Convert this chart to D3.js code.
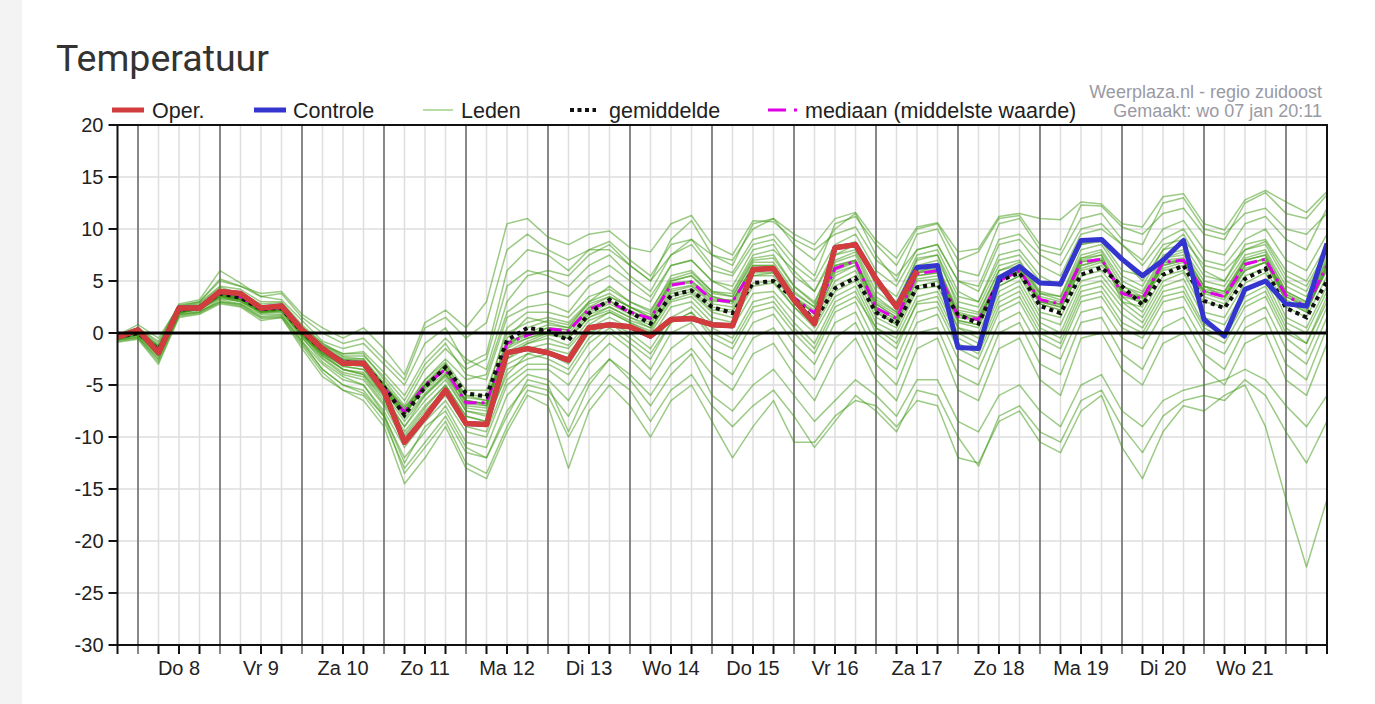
<!DOCTYPE html>
<html>
<head>
<meta charset="utf-8">
<script src="https://cdnjs.cloudflare.com/ajax/libs/d3/7.8.5/d3.min.js"></script>
<style>
html, body { margin: 0; padding: 0; background: #fff; }
body { width: 1375px; height: 704px; overflow: hidden; position: relative; }
#strip { position: absolute; left: 0; top: 0; width: 22px; height: 704px; background: #f3f3f3; }
svg { position: absolute; left: 0; top: 0; }
</style>
</head>
<body>
<div id="strip"></div>
<script>
'use strict';

// 6-hourly steps, step 0 = wo 7 jan 18u, step 1 = do 8 jan 00u
var dayLabels = ['Do 8', 'Vr 9', 'Za 10', 'Zo 11', 'Ma 12', 'Di 13', 'Wo 14', 'Do 15', 'Vr 16', 'Za 17', 'Zo 18', 'Ma 19', 'Di 20', 'Wo 21'];
var yTicks = [-30, -25, -20, -15, -10, -5, 0, 5, 10, 15, 20];

var oper = [-0.4, 0.3, -1.9, 2.4, 2.4, 4.0, 3.8, 2.4, 2.6, 0.3,
  -1.5, -2.9, -2.9, -5.6, -10.5, -8.1, -5.5, -8.7, -8.8, -1.9,
  -1.5, -1.9, -2.6, 0.5, 0.8, 0.6, -0.3, 1.3, 1.4, 0.8,
  0.7, 6.1, 6.2, 3.2, 0.9, 8.2, 8.5, 5.2, 2.5, 6.0];

// controle lies under oper during the first days
var controle = [-0.4, 0.3, -1.9, 2.4, 2.4, 4.0, 3.8, 2.4, 2.6, 0.3,
  -1.5, -2.9, -2.9, -5.6, -10.5, -8.1, -5.5, -8.7, -8.8, -1.9,
  -1.5, -1.9, -2.6, 0.5, 0.8, 0.6, -0.3, 1.3, 1.4, 0.8,
  0.7, 6.1, 6.2, 3.2, 0.9, 8.2, 8.5, 5.2, 2.5, 6.3,
  6.5, -1.4, -1.5, 5.3, 6.4, 4.8, 4.7, 8.9, 9.0, 7.1,
  5.5, 7.0, 8.9, 1.3, -0.3, 4.2, 5.0, 2.8, 2.6, 8.6];

var gemiddelde = [-0.4, 0, -1.6, 2.2, 2.5, 3.8, 3.4, 2.3, 2.4, 0.1,
  -1.6, -2.8, -2.9, -5.2, -7.9, -5.2, -3.3, -5.8, -6.1, -0.7,
  0.5, 0.2, -0.7, 1.9, 3.2, 2.0, 0.9, 3.6, 4.1, 2.5,
  1.9, 4.8, 5.0, 3.3, 1.2, 4.3, 5.3, 2.0, 0.9, 4.4,
  4.7, 1.8, 0.9, 5.0, 5.8, 2.6, 1.9, 5.6, 6.3, 4.5,
  2.7, 5.6, 6.5, 3.1, 2.4, 5.2, 6.2, 2.4, 1.5, 5.0];

var mediaan = [-0.4, 0, -1.7, 2.2, 2.5, 3.9, 3.5, 2.3, 2.4, 0.1,
  -1.6, -2.8, -2.9, -5.3, -7.6, -5.0, -3.5, -6.7, -6.7, -1.0,
  -0.2, 0.4, 0.2, 2.3, 3.0, 2.0, 1.4, 4.6, 4.9, 3.2,
  3.0, 6.2, 6.2, 3.4, 1.9, 6.2, 6.9, 2.4, 1.4, 5.7,
  6.0, 1.6, 1.3, 5.0, 6.0, 3.2, 2.8, 6.8, 7.1, 3.8,
  3.3, 6.8, 7.0, 4.0, 3.5, 6.6, 7.1, 3.6, 2.5, 6.5];

var leden = [
  [-0.2, 0.8, -0.5, 2.6, 3.0, 5.2, 4.5, 3.8, 4.0, 1.8, 0.5, -0.5, 0.5, -1.5, -4.0, 1.0, 2.2, 0.5, 3.0, 10.5,
   11.0, 9.2, 8.5, 9.5, 9.8, 8.2, 7.8, 10.5, 11.3, 8.5, 7.5, 10.8, 10.7, 9.0, 8.0, 9.5, 10.2, 7.0, 5.5, 8.0,
   8.5, 5.0, 4.5, 9.0, 9.5, 7.5, 6.5, 10.0, 10.5, 8.5, 7.0, 10.0, 10.8, 8.0, 7.5, 10.5, 11.2, 9.0, 8.0, 12.0],
  [-0.5, 0.5, -1.0, 2.8, 3.2, 6.0, 4.8, 3.5, 3.2, 1.2, -0.8, -1.5, -1.0, -3.0, -5.0, -1.0, 0.5, -3.0, -2.0, 6.0,
   8.0, 7.5, 6.0, 8.0, 8.8, 7.0, 5.5, 8.5, 9.0, 6.5, 5.8, 9.0, 9.5, 7.2, 5.5, 10.5, 11.2, 8.5, 6.5, 10.0,
   10.5, 7.0, 7.8, 11.0, 11.3, 8.5, 8.0, 12.3, 12.2, 10.2, 9.5, 11.5, 12.0, 9.5, 9.0, 12.5, 13.5, 11.5, 11.0, 13.3],
  [-0.3, 0.2, -1.2, 2.5, 2.9, 4.5, 4.2, 3.0, 3.0, 0.8, -1.0, -2.0, -1.8, -3.8, -6.0, -2.5, -0.5, -2.5, -3.5, 3.0,
   5.5, 6.0, 5.5, 7.5, 8.5, 6.5, 5.0, 9.0, 10.8, 7.5, 6.5, 10.5, 11.0, 8.5, 7.0, 10.0, 11.5, 7.5, 5.0, 9.5,
   10.0, 6.0, 5.5, 10.5, 11.0, 8.0, 7.5, 11.0, 11.5, 9.0, 8.5, 12.5, 13.0, 10.0, 9.5, 11.5, 12.0, 10.0, 9.5, 11.5],
  [-0.4, 0.0, -1.5, 2.3, 2.6, 4.2, 3.6, 2.5, 2.7, 0.5, -1.2, -2.0, -2.0, -4.5, -7.0, -3.5, -1.5, -3.5, -2.5, 4.5,
   6.0, 5.5, 4.5, 6.5, 7.5, 5.5, 4.0, 7.5, 8.5, 6.0, 5.5, 8.5, 9.0, 6.5, 5.0, 8.5, 9.5, 6.0, 4.5, 8.0,
   8.5, 5.0, 4.0, 8.5, 9.0, 6.5, 5.5, 9.5, 10.0, 8.5, 6.5, 9.0, 10.0, 7.0, 6.5, 9.0, 10.0, 7.0, 6.0, 9.5],
  [-0.6, -0.2, -2.0, 2.0, 2.3, 3.5, 3.2, 2.0, 2.2, -0.2, -2.0, -3.0, -3.0, -5.0, -7.5, -4.5, -2.5, -4.5, -4.0, 2.0,
   3.5, 4.0, 3.5, 5.5, 6.5, 5.0, 3.5, 6.5, 7.0, 5.0, 4.0, 7.5, 8.0, 6.0, 4.0, 7.5, 8.5, 5.0, 3.5, 7.5,
   8.0, 4.0, 3.0, 7.5, 8.0, 5.5, 4.5, 8.5, 9.0, 7.0, 5.0, 8.0, 9.5, 6.0, 5.0, 8.5, 9.0, 6.0, 5.0, 8.5],
  [-0.3, 0.1, -1.4, 2.2, 2.5, 3.9, 3.5, 2.4, 2.5, 0.2, -1.5, -2.6, -2.8, -5.0, -7.2, -5.0, -3.0, -6.0, -6.5, -0.5,
   1.5, 1.0, 0.5, 3.0, 4.5, 3.0, 2.0, 5.5, 6.0, 4.0, 3.5, 7.0, 7.2, 4.5, 3.0, 7.0, 7.8, 3.5, 2.0, 6.5,
   7.0, 3.0, 2.5, 6.5, 7.0, 4.0, 3.5, 7.5, 8.0, 5.0, 4.0, 7.5, 8.0, 5.0, 4.5, 7.5, 8.0, 4.5, 3.5, 7.5],
  [-0.5, 0.0, -1.8, 2.1, 2.4, 3.8, 3.3, 2.2, 2.3, 0.0, -1.8, -3.0, -3.2, -5.5, -7.8, -5.0, -3.2, -6.5, -6.8, -1.0,
   0.0, 0.8, 0.5, 2.5, 3.5, 2.5, 1.5, 4.8, 5.0, 3.5, 3.0, 6.5, 6.5, 3.8, 2.5, 6.5, 7.0, 3.0, 1.8, 6.0,
   6.2, 2.0, 1.5, 5.5, 6.5, 3.5, 3.0, 7.0, 7.5, 4.0, 3.5, 7.0, 7.2, 4.5, 4.0, 7.0, 7.5, 4.0, 3.0, 7.0],
  [-0.4, 0.2, -1.5, 2.3, 2.6, 4.0, 3.4, 2.3, 2.4, 0.3, -1.4, -2.5, -2.5, -5.0, -7.5, -4.8, -3.0, -6.2, -6.5, -0.8,
   -0.2, 0.5, 0.3, 2.2, 3.0, 2.2, 1.2, 4.5, 5.0, 3.2, 2.8, 6.0, 6.2, 3.5, 1.8, 6.2, 7.0, 2.5, 1.2, 5.8,
   6.0, 1.5, 1.2, 5.0, 6.0, 3.0, 2.5, 6.8, 7.2, 3.5, 3.0, 6.5, 7.0, 4.0, 3.5, 6.5, 7.2, 3.5, 2.5, 6.5],
  [-0.4, 0.1, -1.6, 2.2, 2.4, 3.7, 3.4, 2.4, 2.5, 0.2, -1.6, -2.8, -3.0, -5.3, -7.8, -5.2, -3.5, -6.8, -7.0, -1.2,
   -0.5, 0.2, 0.0, 2.0, 2.8, 1.8, 1.0, 4.2, 4.6, 3.0, 3.2, 6.3, 6.0, 3.2, 2.0, 6.0, 6.8, 2.8, 1.5, 5.5,
   5.8, 1.8, 1.5, 5.2, 6.2, 3.3, 2.8, 6.5, 7.0, 4.0, 3.3, 6.8, 7.0, 4.2, 3.8, 6.8, 7.0, 3.8, 2.8, 6.8],
  [-0.3, 0.0, -1.7, 2.0, 2.3, 3.6, 3.2, 2.2, 2.3, 0.0, -1.7, -2.9, -3.0, -5.5, -8.0, -5.0, -3.5, -6.5, -6.8, -1.5,
   -0.5, 0.0, -0.3, 1.8, 2.5, 1.5, 0.8, 4.0, 4.5, 2.8, 2.5, 5.8, 5.8, 3.0, 1.5, 5.5, 6.5, 2.2, 1.0, 5.2,
   5.5, 1.2, 0.8, 4.5, 5.5, 2.8, 2.2, 6.2, 6.8, 4.5, 3.5, 6.2, 6.8, 3.8, 3.2, 6.2, 6.8, 3.2, 2.2, 6.2],
  [-0.5, -0.1, -1.9, 2.1, 2.4, 3.7, 3.3, 2.1, 2.2, -0.1, -2.0, -3.2, -3.5, -5.8, -8.5, -6.0, -4.0, -7.0, -7.2, -2.0,
   -1.0, -0.2, -0.5, 1.5, 2.5, 1.5, 0.5, 3.5, 4.0, 2.2, 2.0, 5.5, 5.5, 2.8, 1.2, 5.0, 6.0, 2.0, 0.8, 5.0,
   5.2, 1.0, 0.5, 5.0, 6.0, 3.0, 2.5, 6.0, 6.5, 4.2, 3.0, 6.0, 6.5, 4.0, 3.5, 6.0, 6.8, 3.5, 2.5, 6.0],
  [-0.4, 0.1, -1.5, 2.4, 2.7, 4.0, 3.6, 2.6, 2.6, 0.4, -1.2, -2.3, -2.5, -4.8, -7.2, -4.5, -2.8, -5.5, -5.5, 0.0,
   1.0, 1.5, 1.0, 3.0, 3.8, 2.5, 1.8, 5.0, 5.5, 3.5, 3.0, 6.5, 6.5, 3.5, 2.2, 6.5, 7.0, 2.8, 1.5, 5.8,
   6.5, 1.8, 1.2, 5.0, 5.8, 3.0, 2.8, 7.2, 7.5, 3.0, 2.5, 7.2, 7.5, 4.5, 3.5, 7.0, 7.5, 3.0, 2.0, 6.5],
  [-0.5, 0.0, -1.6, 2.2, 2.5, 3.8, 3.4, 2.3, 2.4, 0.1, -1.6, -2.8, -2.9, -5.3, -7.7, -5.0, -3.5, -6.7, -6.7, -1.0,
   -0.3, 0.5, 0.3, 2.4, 3.1, 2.1, 1.3, 4.7, 4.8, 3.3, 3.1, 6.1, 6.3, 3.3, 2.0, 6.3, 6.8, 2.5, 1.3, 5.8,
   6.1, 1.7, 1.2, 5.1, 5.9, 3.3, 2.7, 6.9, 7.0, 3.9, 3.4, 6.7, 7.1, 4.1, 3.4, 6.5, 7.2, 3.7, 2.6, 6.6],
  [-0.2, 0.3, -1.3, 2.4, 2.6, 3.9, 3.5, 2.5, 2.5, 0.3, -1.3, -2.5, -2.7, -5.0, -7.5, -5.5, -3.8, -7.2, -7.5, -1.8,
   -0.8, 0.0, -0.5, 1.5, 2.2, 1.2, 0.5, 3.2, 3.8, 2.0, 1.5, 4.8, 5.0, 2.5, 0.8, 4.5, 5.5, 1.5, 0.5, 4.5,
   5.0, 0.5, 0.0, 4.5, 5.5, 2.0, 1.5, 5.5, 6.0, 3.5, 2.0, 5.5, 6.0, 3.0, 2.5, 5.5, 6.2, 2.5, 1.5, 5.5],
  [-0.6, -0.2, -2.2, 1.9, 2.3, 3.5, 3.0, 2.0, 2.1, -0.3, -2.2, -3.5, -3.8, -6.0, -9.0, -6.5, -4.5, -7.5, -8.0, -2.5,
   -1.5, -1.0, -1.5, 0.8, 2.0, 1.0, 0.0, 3.0, 3.5, 1.5, 1.0, 4.5, 4.8, 2.5, 0.5, 4.0, 5.0, 1.0, 0.0, 4.2,
   4.5, 0.5, -0.5, 4.0, 5.0, 1.5, 0.8, 5.0, 5.5, 3.0, 1.5, 5.0, 5.8, 2.0, 1.5, 4.8, 5.8, 1.5, 0.5, 4.5],
  [-0.3, 0.2, -1.4, 2.3, 2.5, 3.7, 3.3, 2.4, 2.4, 0.0, -1.8, -3.2, -3.5, -6.0, -9.5, -7.0, -5.0, -8.0, -8.5, -3.0,
   -2.0, -1.5, -2.0, 0.5, 1.5, 0.5, -0.5, 2.5, 3.0, 1.0, 0.5, 3.8, 4.0, 1.8, 0.0, 3.5, 4.5, 0.5, -0.5, 3.5,
   4.0, 0.0, -1.0, 3.5, 4.5, 1.0, 0.0, 4.5, 5.0, 2.5, 1.0, 4.5, 5.2, 1.5, 0.8, 4.2, 5.0, 1.0, 0.0, 4.0],
  [-0.5, 0.0, -1.7, 2.1, 2.4, 3.6, 3.3, 2.2, 2.3, 0.0, -2.0, -3.5, -4.0, -6.5, -10.0, -7.5, -5.5, -8.5, -9.0, -3.5,
   -2.5, -2.0, -3.0, 0.0, 1.0, 0.0, -1.5, 1.5, 2.5, 0.5, -0.5, 3.0, 3.5, 1.0, -1.0, 3.0, 4.0, 0.0, -1.5, 3.0,
   3.5, -0.5, -1.5, 3.0, 4.0, 0.5, -0.5, 4.0, 4.5, 1.8, 0.5, 4.0, 4.5, 0.8, 0.0, 3.5, 4.5, 0.5, -1.0, 3.5],
  [-0.4, 0.1, -1.8, 2.0, 2.2, 3.4, 3.0, 1.9, 2.0, -0.5, -2.5, -4.0, -4.5, -7.0, -10.5, -8.0, -6.0, -9.0, -9.5, -4.5,
   -3.0, -3.0, -4.0, -1.0, 0.5, -1.0, -2.5, 1.0, 2.0, -0.5, -1.5, 2.0, 2.5, 0.0, -2.0, 2.0, 3.0, -1.0, -2.5, 2.0,
   2.5, -1.5, -2.5, 2.0, 3.0, -0.5, -1.5, 3.0, 3.5, 0.5, -0.5, 3.0, 3.5, 0.0, -1.0, 2.5, 3.5, -0.5, -2.0, 2.5],
  [-0.6, -0.3, -2.3, 1.8, 2.0, 3.2, 2.8, 1.8, 1.8, -0.8, -3.0, -4.5, -5.0, -7.5, -11.0, -8.5, -6.5, -9.5, -10.0, -5.0,
   -3.5, -3.5, -5.0, -2.0, 0.0, -1.5, -3.5, 0.0, 1.0, -1.5, -2.5, 1.0, 1.8, -1.0, -3.0, 1.0, 2.0, -2.0, -3.5, 1.0,
   1.8, -2.5, -3.5, 1.0, 2.0, -1.5, -2.5, 2.0, 2.5, -0.5, -1.5, 2.0, 2.5, -1.0, -2.0, 1.5, 2.5, -1.5, -3.0, 1.5],
  [-0.7, -0.4, -2.5, 1.7, 2.0, 3.0, 2.7, 1.5, 1.6, -1.0, -3.5, -5.0, -5.5, -8.0, -12.0, -9.5, -7.0, -10.5, -11.0, -6.0,
   -4.0, -4.5, -6.5, -3.0, -1.0, -2.5, -4.5, -1.5, 0.0, -2.5, -4.0, -0.5, 0.5, -2.5, -4.5, -0.5, 1.0, -3.0, -5.0, 0.0,
   0.5, -4.0, -5.0, 0.0, 1.0, -3.0, -4.0, 1.0, 1.5, -2.0, -3.5, 0.5, 1.5, -2.0, -3.5, 0.5, 1.5, -3.0, -4.5, 0.5],
  [-0.8, -0.5, -2.8, 1.6, 1.9, 2.9, 2.6, 1.4, 1.5, -1.2, -3.8, -5.5, -6.0, -8.5, -13.0, -10.5, -8.0, -11.5, -12.0, -7.5,
   -5.0, -5.5, -8.0, -4.5, -2.5, -4.0, -6.0, -3.0, -1.5, -4.0, -5.5, -2.0, -1.0, -4.0, -6.5, -2.5, -0.5, -4.5, -6.5, -1.5,
   -0.5, -5.5, -6.5, -1.5, -0.5, -4.5, -6.0, -0.5, 0.0, -3.5, -5.0, -1.0, 0.0, -3.5, -5.0, -1.0, 0.0, -4.5, -6.0, -1.0],
  [-0.9, -0.6, -3.0, 1.5, 1.8, 2.8, 2.5, 1.2, 1.5, -1.5, -4.2, -5.5, -6.5, -9.0, -14.5, -12.0, -9.0, -13.0, -14.0, -9.5,
   -6.0, -7.0, -13.0, -7.5, -5.0, -7.0, -10.0, -6.5, -5.0, -8.5, -12.0, -9.0, -6.5, -10.5, -10.5, -8.0, -6.5, -7.0, -9.0, -6.5,
   -7.0, -12.0, -12.5, -8.5, -7.5, -10.5, -11.5, -7.5, -6.0, -11.0, -14.0, -9.5, -7.0, -7.5, -6.0, -5.0, -9.0, -16.0, -22.5, -16.0],
  [-0.7, -0.4, -2.6, 1.8, 2.1, 3.0, 2.8, 1.6, 1.7, -0.8, -3.5, -5.0, -5.8, -8.0, -13.5, -11.0, -8.5, -12.5, -13.5, -9.0,
   -5.5, -6.0, -10.0, -6.5, -4.0, -5.5, -8.5, -5.5, -4.0, -7.0, -9.0, -7.0, -5.5, -8.0, -11.0, -8.5, -6.0, -7.5, -9.5, -5.5,
   -6.0, -10.0, -12.8, -8.0, -7.0, -9.5, -10.5, -6.5, -5.5, -9.0, -11.5, -8.0, -6.5, -6.0, -6.5, -4.5, -6.0, -9.5, -12.5, -8.5],
  [-0.5, -0.1, -2.0, 1.9, 2.3, 3.3, 3.1, 2.0, 2.1, -0.4, -2.8, -4.2, -5.0, -7.8, -12.5, -9.0, -7.5, -11.0, -12.0, -8.0,
   -4.5, -5.0, -9.5, -5.0, -2.5, -4.5, -7.0, -4.0, -2.0, -6.0, -7.5, -5.0, -3.5, -6.0, -8.5, -6.5, -4.5, -6.0, -8.0, -4.5,
   -4.5, -8.5, -9.5, -6.0, -5.0, -7.5, -9.0, -5.0, -4.0, -7.5, -9.0, -6.5, -5.5, -5.0, -4.5, -3.5, -4.5, -7.0, -9.0, -6.0],
  [-0.2, 0.5, -0.8, 2.7, 3.0, 5.0, 4.5, 3.5, 3.8, 1.5, 0.0, -1.0, -0.5, -2.5, -4.5, 0.5, 1.5, -0.5, 1.0, 8.0,
   9.5, 8.0, 7.0, 8.0, 8.0, 6.5, 5.0, 7.5, 9.0, 7.5, 7.0, 10.0, 11.0, 9.5, 8.5, 11.0, 11.6, 8.9, 7.2, 10.2,
   10.6, 7.8, 8.1, 11.2, 11.5, 11.0, 10.9, 12.6, 12.4, 10.5, 10.2, 13.1, 13.4, 10.5, 9.9, 12.8, 13.7, 12.6, 11.6, 13.6],
  [-0.4, 0.0, -1.9, 2.0, 2.3, 3.5, 3.2, 2.1, 2.2, -0.2, -2.4, -3.8, -4.2, -6.8, -9.8, -7.2, -5.0, -8.0, -8.5, -4.0,
   -2.0, -2.5, -3.5, -0.5, 1.0, -0.5, -2.0, 1.0, 2.0, 0.0, -1.0, 2.5, 3.0, 0.5, -1.5, 2.5, 3.5, 0.5, -1.0, 2.8,
   3.0, -1.0, -2.0, 2.5, 3.5, 0.0, -1.0, 3.5, 4.0, 1.0, 0.0, 3.5, 4.0, 0.5, -0.5, 3.0, 4.0, 0.0, -1.0, 3.0],
  [-0.3, 0.4, -1.2, 2.5, 2.8, 4.4, 3.8, 2.8, 2.9, 0.6, -1.0, -2.2, -2.2, -4.2, -6.5, -3.0, -1.0, -4.0, -4.5, 1.5,
   2.5, 2.8, 2.0, 4.5, 5.5, 4.0, 3.0, 6.5, 7.0, 5.0, 4.5, 8.0, 8.5, 5.5, 4.0, 8.0, 8.8, 4.5, 3.0, 7.0,
   7.5, 3.5, 3.0, 7.0, 7.5, 5.0, 4.5, 8.5, 8.8, 6.0, 5.5, 8.5, 9.0, 6.5, 6.0, 8.0, 8.8, 5.5, 4.5, 8.0],
  [-0.5, -0.1, -1.6, 2.1, 2.4, 3.6, 3.3, 2.3, 2.4, 0.0, -1.9, -3.0, -3.2, -5.5, -8.2, -5.8, -4.0, -6.0, -6.0, 0.5,
   2.0, 2.0, 1.5, 3.5, 4.2, 3.0, 2.2, 5.2, 5.8, 4.0, 3.8, 7.2, 7.5, 4.5, 2.8, 7.5, 8.0, 4.0, 2.5, 7.2,
   7.5, 2.5, 2.0, 6.0, 6.8, 3.8, 3.5, 8.0, 8.5, 5.5, 4.5, 8.0, 8.5, 5.5, 5.0, 8.0, 8.5, 5.0, 4.0, 8.0],
  [-0.4, 0.2, -1.5, 2.3, 2.5, 3.9, 3.5, 2.3, 2.4, 0.2, -1.5, -2.7, -2.8, -5.2, -7.8, -5.3, -3.5, -6.5, -7.0, -1.5,
   0.5, 1.2, 0.8, 2.8, 3.5, 2.5, 1.5, 5.0, 5.5, 3.8, 3.5, 6.8, 6.8, 4.0, 2.5, 6.8, 7.5, 3.2, 2.0, 6.2,
   6.5, 2.2, 1.8, 6.0, 6.5, 3.8, 3.2, 7.2, 7.8, 4.5, 3.8, 7.2, 7.8, 4.5, 4.0, 7.2, 7.8, 4.0, 3.0, 7.2],
  [-0.6, -0.2, -1.8, 2.0, 2.3, 3.7, 3.2, 2.1, 2.2, -0.1, -2.2, -3.5, -4.0, -6.2, -9.0, -6.0, -4.2, -7.5, -7.8, -2.5,
   -1.0, -0.5, -1.2, 1.2, 2.0, 1.0, 0.2, 3.8, 4.2, 2.5, 2.2, 5.5, 5.8, 3.0, 1.0, 5.8, 6.5, 2.0, 0.8, 5.5,
   5.8, 1.2, 0.8, 5.5, 6.5, 2.8, 2.2, 6.5, 7.0, 3.8, 2.8, 6.5, 7.0, 3.5, 2.8, 6.0, 6.8, 3.0, 2.0, 6.2]
];

var W = 1375, H = 704;
var plot = { left: 117.5, right: 1327, top: 125, bottom: 645 };
var font = 'Liberation Sans, Arial, sans-serif';

var svg = d3.select('body').append('svg').attr('width', W).attr('height', H);

var x = d3.scaleLinear().domain([0, gemiddelde.length - 1]).range([plot.left, plot.right]);
var y = d3.scaleLinear().domain([-30, 20]).range([plot.bottom, plot.top]);

var line = d3.line().x(function (d, i) {
  return x(i);
}).y(function (d) {
  return y(d);
});

// title
svg.append('text').attr('x', 56).attr('y', 71).attr('font-family', 'Roboto, sans-serif').attr('font-size', 37.5).attr('fill', '#333').text('Temperatuur');

svg.append('clipPath').attr('id', 'clip').append('rect').attr('x', plot.left).attr('y', plot.top).attr('width', plot.right - plot.left).attr('height', plot.bottom - plot.top);

var steps = d3.range(gemiddelde.length);
var isMidnight = function isMidnight(i) {
  return (i - 1) % 4 === 0;
};

// grid
var grid = svg.append('g');
grid.selectAll('.hgrid').data(yTicks.filter(function (v) {
  return v !== 0 && v !== 20 && v !== -30;
})).enter().append('line').attr('class', 'hgrid').attr('x1', plot.left).attr('x2', plot.right).attr('y1', function (d) {
  return y(d);
}).attr('y2', function (d) {
  return y(d);
}).attr('stroke', '#dedede').attr('stroke-width', 1.5);

grid.selectAll('.vgrid').data(steps.filter(function (i) {
  return i > 0 && i < steps.length - 1 && !isMidnight(i);
})).enter().append('line').attr('class', 'vgrid').attr('x1', function (d) {
  return x(d);
}).attr('x2', function (d) {
  return x(d);
}).attr('y1', plot.top).attr('y2', plot.bottom).attr('stroke', '#dedede').attr('stroke-width', 1.5);

grid.selectAll('.vday').data(steps.filter(isMidnight)).enter().append('line').attr('class', 'vday').attr('x1', function (d) {
  return x(d);
}).attr('x2', function (d) {
  return x(d);
}).attr('y1', plot.top).attr('y2', plot.bottom + 9).attr('stroke', '#6a6a6a').attr('stroke-width', 1.6);

// members
var lines = svg.append('g').attr('clip-path', 'url(#clip)');
lines.selectAll('.lid').data(leden).enter().append('path').attr('class', 'lid').attr('d', line).attr('fill', 'none').attr('stroke', 'rgb(58,152,14)').attr('stroke-opacity', 0.5).attr('stroke-width', 1.5).attr('stroke-linejoin', 'round');

// zero line
svg.append('line').attr('x1', plot.left).attr('x2', plot.right).attr('y1', y(0)).attr('y2', y(0)).attr('stroke', '#000').attr('stroke-width', 3);

lines.append('path').datum(mediaan).attr('d', line).attr('fill', 'none').attr('stroke', '#e000e8').attr('stroke-width', 3).attr('stroke-dasharray', '13,5,3,5');
lines.append('path').datum(gemiddelde).attr('d', line).attr('fill', 'none').attr('stroke', '#111').attr('stroke-width', 4).attr('stroke-dasharray', '4,4');
lines.append('path').datum(controle).attr('d', line).attr('fill', 'none').attr('stroke', '#3434cf').attr('stroke-width', 5).attr('stroke-linejoin', 'round');
lines.append('path').datum(oper).attr('d', line).attr('fill', 'none').attr('stroke', '#d23c3c').attr('stroke-width', 5.5).attr('stroke-linejoin', 'round');

// frame
svg.append('rect').attr('x', plot.left).attr('y', plot.top).attr('width', plot.right - plot.left).attr('height', plot.bottom - plot.top).attr('fill', 'none').attr('stroke', '#111').attr('stroke-width', 2);

// y axis ticks + labels
var yAxis = svg.append('g');
yAxis.selectAll('.yt').data(yTicks).enter().append('line').attr('class', 'yt').attr('x1', plot.left - 9).attr('x2', plot.left).attr('y1', function (d) {
  return y(d);
}).attr('y2', function (d) {
  return y(d);
}).attr('stroke', '#111').attr('stroke-width', 2);
yAxis.selectAll('.yl').data(yTicks).enter().append('text').attr('class', 'yl').attr('x', plot.left - 14).attr('y', function (d) {
  return y(d);
}).attr('dy', '0.36em').attr('text-anchor', 'end').attr('font-family', font).attr('font-size', 20).attr('fill', '#222').text(function (d) {
  return d;
});

// x axis ticks + labels
var xAxis = svg.append('g');
xAxis.selectAll('.xt').data(steps.filter(function (i) {
  return !isMidnight(i);
})).enter().append('line').attr('class', 'xt').attr('x1', function (d) {
  return x(d);
}).attr('x2', function (d) {
  return x(d);
}).attr('y1', plot.bottom).attr('y2', plot.bottom + 9).attr('stroke', '#111').attr('stroke-width', 2);
xAxis.selectAll('.xl').data(dayLabels).enter().append('text').attr('class', 'xl').attr('x', function (d, i) {
  return x(3 + i * 4);
}).attr('y', plot.bottom + 23).attr('dy', '0.36em').attr('text-anchor', 'middle').attr('font-family', font).attr('font-size', 20).attr('fill', '#222').text(function (d) {
  return d;
});

// legend
var legendItems = [
  { label: 'Oper.', x: 112, w: 32, stroke: '#d23c3c', width: 5, dash: null, tx: 152 },
  { label: 'Controle', x: 254, w: 32, stroke: '#3434cf', width: 5, dash: null, tx: 293 },
  { label: 'Leden', x: 423, w: 30, stroke: '#b6dea5', width: 2, dash: null, tx: 461 },
  { label: 'gemiddelde', x: 570, w: 26, stroke: '#111', width: 4, dash: '4,3.5', tx: 609 },
  { label: 'mediaan (middelste waarde)', x: 768, w: 30, stroke: '#e000e8', width: 3, dash: '18,8,3,5', tx: 805 }
];
var legend = svg.append('g');
legendItems.forEach(function (it) {
  legend.append('line').attr('x1', it.x).attr('x2', it.x + it.w).attr('y1', 110).attr('y2', 110).attr('stroke', it.stroke).attr('stroke-width', it.width).attr('stroke-dasharray', it.dash);
  legend.append('text').attr('x', it.tx).attr('y', 110).attr('dy', '0.36em').attr('font-family', font).attr('font-size', 21.5).attr('fill', '#222').text(it.label);
});

svg.append('text').attr('x', 1322).attr('y', 92).attr('dy', '0.36em').attr('text-anchor', 'end').attr('font-family', font).attr('font-size', 18).attr('fill', '#9a9aa4').text('Weerplaza.nl - regio zuidoost');
svg.append('text').attr('x', 1322).attr('y', 111).attr('dy', '0.36em').attr('text-anchor', 'end').attr('font-family', font).attr('font-size', 18).attr('fill', '#9a9aa4').text('Gemaakt: wo 07 jan 20:11');
</script>
</body>
</html>
